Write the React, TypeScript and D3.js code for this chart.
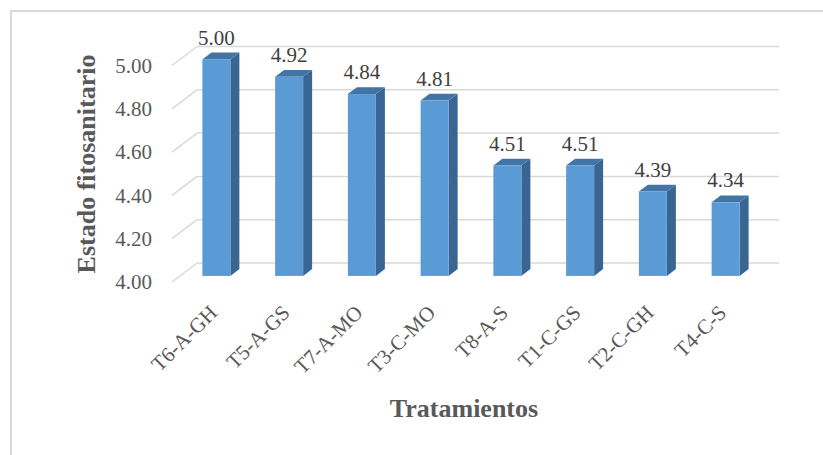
import React, { useEffect, useRef } from 'react';
import * as d3 from 'd3';

const categories = ['T6-A-GH', 'T5-A-GS', 'T7-A-MO', 'T3-C-MO', 'T8-A-S', 'T1-C-GS', 'T2-C-GH', 'T4-C-S'];
const values = [5.0, 4.92, 4.84, 4.81, 4.51, 4.51, 4.39, 4.34];
const yTicks = [4.0, 4.2, 4.4, 4.6, 4.8, 5.0];

const App = () => {
  const svgRef = useRef<SVGSVGElement>(null);

  useEffect(() => {
    const width = 823;
    const height = 455;
    const font = '"Liberation Serif", "Times New Roman", serif';

    const svg = d3.select(svgRef.current)
      .attr('width', width)
      .attr('height', height);
    svg.selectAll('*').remove();

    // outer chart border (only left/top visible in the crop)
    svg.append('rect')
      .attr('x', 11)
      .attr('y', 11)
      .attr('width', width + 20)
      .attr('height', height + 20)
      .attr('fill', '#fff')
      .attr('stroke', '#d9d9d9')
      .attr('stroke-width', 2);

    // front plane of the 3D box
    const x = d3.scaleBand<string>()
      .domain(categories)
      .range([172, 754])
      .paddingInner(0.615)
      .paddingOuter(0.3075);

    const y = d3.scaleLinear()
      .domain([4, 5])
      .range([282, 65.5]);

    // depth vector from front plane to back wall
    const depth = { dx: 25, dy: -19 };
    const barFront = 0.32;
    const barBack = 0.68;

    const grid = svg.append('g');
    yTicks.forEach(t => {
      const yy = y(t);
      grid.append('line')
        .attr('x1', 172).attr('y1', yy)
        .attr('x2', 172 + depth.dx).attr('y2', yy + depth.dy)
        .attr('stroke', '#d9d9d9').attr('stroke-width', 1.5);
      grid.append('line')
        .attr('x1', 172 + depth.dx).attr('y1', yy + depth.dy)
        .attr('x2', 754 + depth.dx).attr('y2', yy + depth.dy)
        .attr('stroke', '#d9d9d9').attr('stroke-width', 1.5);
    });

    svg.append('g')
      .selectAll('text')
      .data(yTicks)
      .enter()
      .append('text')
      .attr('x', 152)
      .attr('y', d => y(d))
      .attr('dy', '0.35em')
      .attr('text-anchor', 'end')
      .attr('fill', '#595959')
      .style('font-family', font)
      .style('font-size', '21px')
      .text(d => d.toFixed(2));

    const fx = depth.dx * barFront, fy = depth.dy * barFront;
    const bx = depth.dx * barBack, by = depth.dy * barBack;
    const bw = x.bandwidth();

    const bars = svg.append('g')
      .selectAll('g')
      .data(categories.map((c, i) => ({ c, v: values[i] })))
      .enter()
      .append('g');

    bars.append('path')
      .attr('fill', '#386591')
      .attr('d', d => {
        const x1 = x(d.c)! + bw, y0 = y(4), y1 = y(d.v);
        return `M${x1 + fx},${y1 + fy}L${x1 + bx},${y1 + by}L${x1 + bx},${y0 + by}L${x1 + fx},${y0 + fy}Z`;
      });

    bars.append('path')
      .attr('fill', '#4275a6')
      .attr('d', d => {
        const x0 = x(d.c)!, y1 = y(d.v);
        return `M${x0 + fx},${y1 + fy}L${x0 + bx},${y1 + by}L${x0 + bw + bx},${y1 + by}L${x0 + bw + fx},${y1 + fy}Z`;
      });

    bars.append('rect')
      .attr('x', d => x(d.c)! + fx)
      .attr('y', d => y(d.v) + fy)
      .attr('width', bw)
      .attr('height', d => y(4) - y(d.v))
      .attr('fill', '#5b9bd5');

    bars.append('text')
      .attr('x', d => x(d.c)! + fx + bw / 2)
      .attr('y', d => y(d.v) + by - 8)
      .attr('text-anchor', 'middle')
      .attr('fill', '#404040')
      .style('font-family', font)
      .style('font-size', '21px')
      .text(d => d.v.toFixed(2));

    svg.append('g')
      .selectAll('text')
      .data(categories)
      .enter()
      .append('text')
      .attr('transform', d => `translate(${x(d)! + fx + bw / 2 + 2}, 314) rotate(-45)`)
      .attr('text-anchor', 'end')
      .attr('fill', '#595959')
      .style('font-family', font)
      .style('font-size', '21px')
      .text(d => d);

    svg.append('text')
      .attr('transform', 'translate(95, 164) rotate(-90)')
      .attr('text-anchor', 'middle')
      .attr('fill', '#595959')
      .style('font-family', font)
      .style('font-size', '26px')
      .style('font-weight', 'bold')
      .text('Estado fitosanitario');

    svg.append('text')
      .attr('x', 464)
      .attr('y', 417)
      .attr('text-anchor', 'middle')
      .attr('fill', '#595959')
      .style('font-family', font)
      .style('font-size', '26px')
      .style('font-weight', 'bold')
      .text('Tratamientos');
  }, []);

  return (
    <svg ref={svgRef} style={{ position: 'absolute', left: 0, top: 0, display: 'block' }}></svg>
  );
};

export default App;
